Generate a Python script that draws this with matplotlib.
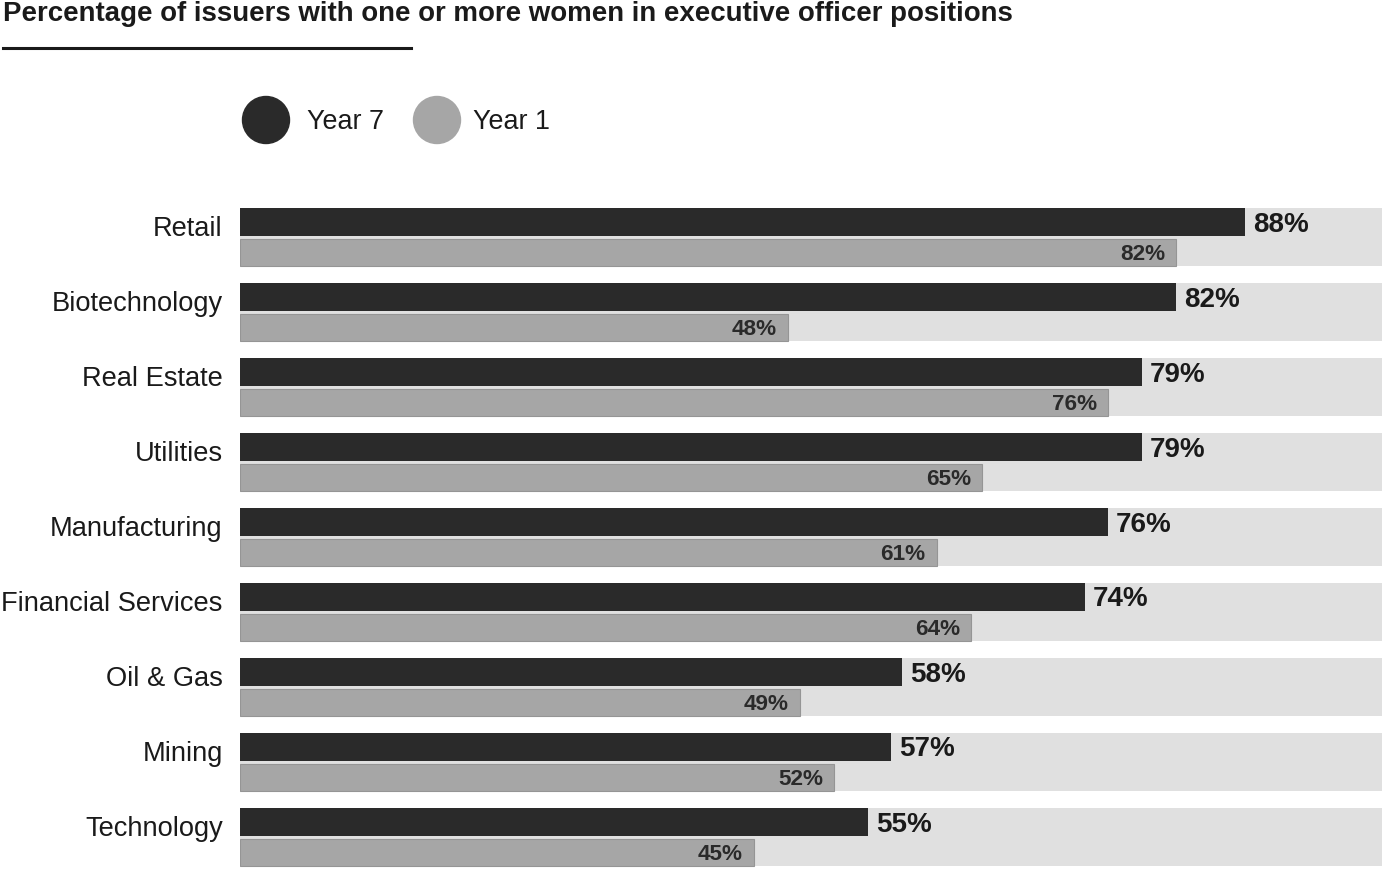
import matplotlib
matplotlib.use("Agg")
import matplotlib.pyplot as plt
from matplotlib.patches import Ellipse
from matplotlib.lines import Line2D

plt.rcParams['font.family'] = ['Liberation Sans', 'DejaVu Sans']

categories = ["Retail", "Biotechnology", "Real Estate", "Utilities", "Manufacturing",
              "Financial Services", "Oil & Gas", "Mining", "Technology"]
year7 = [88, 82, 79, 79, 76, 74, 58, 57, 55]
year1 = [82, 48, 76, 65, 61, 64, 49, 52, 45]
series_labels = ["Year 7", "Year 1"]
title = "Percentage of issuers with one or more women in executive officer positions"

DARK = "#2a2a2a"
GRAY = "#a6a6a6"
BG = "#e0e0e0"

W, H = 1388, 873
DPI = 100
fig = plt.figure(figsize=(W / DPI, H / DPI), dpi=DPI)

# Overlay axes in pixel coordinates for title/legend
ov = fig.add_axes([0, 0, 1, 1])
ov.set_xlim(0, W)
ov.set_ylim(H, 0)
ov.axis("off")

ov.text(3, 14, title, fontsize=19.9, fontweight="bold", color="#1a1a1a",
        ha="left", va="center")
ov.add_line(Line2D([3, 411], [48, 48], color="#1a1a1a", lw=2.2))

ov.add_patch(Ellipse((266, 120), 47, 47, color=DARK))
ov.text(307, 122, series_labels[0], fontsize=19.4, color="#1a1a1a", ha="left", va="center")
ov.add_patch(Ellipse((437, 120), 47, 47, color=GRAY))
ov.text(473, 122, series_labels[1], fontsize=19.4, color="#1a1a1a", ha="left", va="center")

# Main axes
left_px, right_px = 240, 1382
top_px, bot_px = 200, 873
ax = fig.add_axes([left_px / W, 1 - bot_px / H, (right_px - left_px) / W, (bot_px - top_px) / H])
ax.set_xlim(0, 100)
ax.set_ylim((bot_px - 237) / 75, (top_px - 237) / 75)
ax.axis("off")

n = len(categories)
ys = list(range(n))
bar_h = 0.37
off = 0.2
ax.barh(ys, [100] * n, height=0.775, color=BG, left=0, zorder=1)
ax.barh([y - off for y in ys], year7, height=bar_h, color=DARK, zorder=2)
ax.barh([y + off + 0.007 for y in ys], year1, height=bar_h, color=GRAY,
        edgecolor="#959595", linewidth=0.8, zorder=2)

for y, v7, v1, cat in zip(ys, year7, year1, categories):
    ax.annotate(f"{v7}%", (v7, y - off), xytext=(5.8, -1.8), textcoords="offset points",
                ha="left", va="center", fontsize=20, fontweight="bold", color="#1a1a1a")
    ax.annotate(f"{v1}%", (v1, y + off), xytext=(-7.9, -1.5), textcoords="offset points",
                ha="right", va="center", fontsize=16.2, fontweight="bold", color="#2a2a2a")
    ax.annotate(cat, (0, y - 0.12), xytext=(-12.5, -0.5), textcoords="offset points",
                ha="right", va="center", fontsize=19.6, color="#1a1a1a", annotation_clip=False)

fig.savefig("out.png", dpi=DPI)
